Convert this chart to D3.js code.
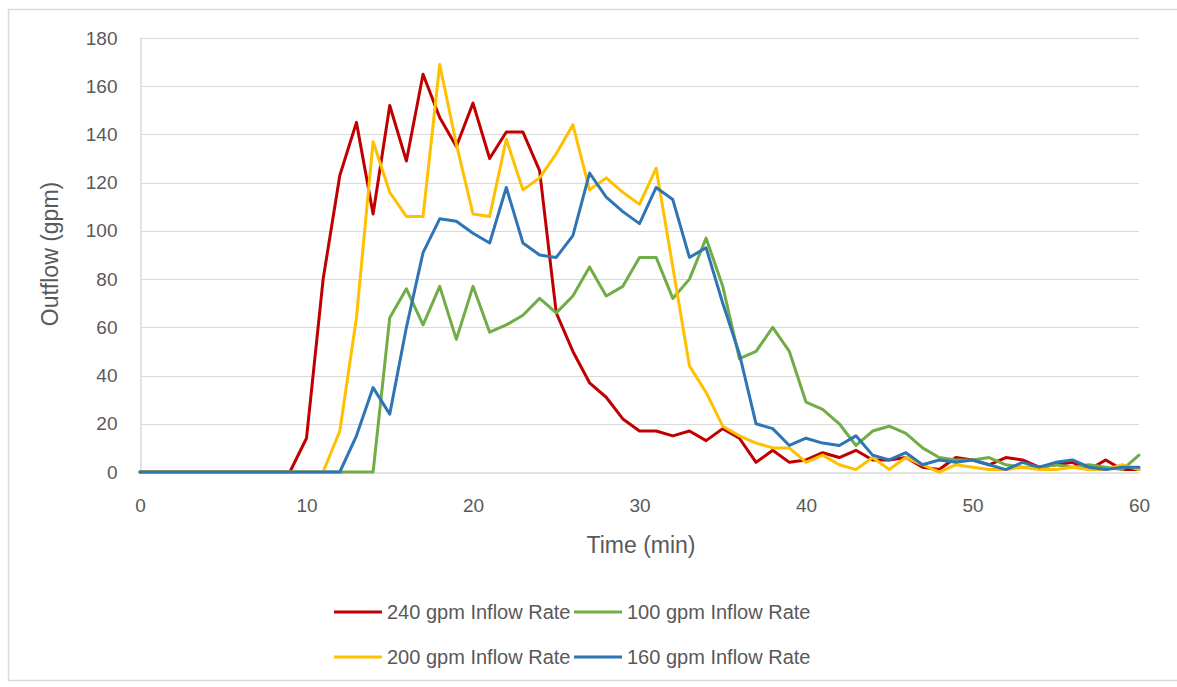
<!DOCTYPE html>
<html>
<head>
<meta charset="utf-8">
<script src="https://cdn.jsdelivr.net/npm/d3@7"></script>
<style>
  html, body { margin: 0; padding: 0; background: #fff; }
  svg { display: block; font-family: "Liberation Sans", Arial, sans-serif; }
</style>
</head>
<body>
<svg id="chart" width="1177" height="687"></svg>
<script>
// ---- data ----
const minutes = d3.range(0, 61);
const xTicks = [0, 10, 20, 30, 40, 50, 60];
const yTicks = [0, 20, 40, 60, 80, 100, 120, 140, 160, 180];
const seriesNames = ["240 gpm Inflow Rate", "100 gpm Inflow Rate", "200 gpm Inflow Rate", "160 gpm Inflow Rate"];
const seriesColors = ["#C00000", "#70AD47", "#FFC000", "#2E75B6"];

const flow240 = [0,0,0,0,0,0,0,0,0,0,14,80,123,145,107,152,129,165,147,135,153,130,141,141,125,66,50,37,31,22,17,17,15,17,13,18,14,4,9,4,5,8,6,9,5,5,6,2,1,6,5,3,6,5,2,3,4,1,5,1,1];
const flow100 = [0,0,0,0,0,0,0,0,0,0,0,0,0,0,0,64,76,61,77,55,77,58,61,65,72,66,73,85,73,77,89,89,72,80,97,77,47,50,60,50,29,26,20,11,17,19,16,10,6,5,5,6,3,2,2,3,2,3,2,1,7];
const flow200 = [0,0,0,0,0,0,0,0,0,0,0,0,17,64,137,116,106,106,169,136,107,106,138,117,122,132,144,117,122,116,111,126,85,44,33,19,15,12,10,10,4,7,3,1,6,1,6,3,0,3,2,1,1,2,1,1,2,1,1,3,1];
const flow160 = [0,0,0,0,0,0,0,0,0,0,0,0,0,15,35,24,60,91,105,104,99,95,118,95,90,89,98,124,114,108,103,118,113,89,93,70,49,20,18,11,14,12,11,15,7,5,8,3,5,4,5,3,1,4,2,4,5,2,1,2,2];

const seriesValues = [flow240, flow100, flow200, flow160];

// ---- layout ----
const svg = d3.select("#chart");
const plotLeft = 140, plotRight = 1139, plotTop = 38, plotBottom = 472;
const textColor = "#595959";
const gridColor = "#D9D9D9";

// chart border
svg.append("rect")
  .attr("x", 8.5).attr("y", 9.5).attr("width", 1200).attr("height", 671)
  .attr("fill", "none").attr("stroke", "#D9D9D9").attr("stroke-width", 1.5);

const x = d3.scaleLinear().domain([0, 60]).range([plotLeft, plotRight]);
const y = d3.scaleLinear().domain([0, 180]).range([plotBottom, plotTop]);

// gridlines
svg.append("g")
  .selectAll("line").data(yTicks.filter(t => t > 0)).join("line")
  .attr("x1", plotLeft).attr("x2", plotRight)
  .attr("y1", d => Math.round(y(d)) + 0.5).attr("y2", d => Math.round(y(d)) + 0.5)
  .attr("stroke", gridColor).attr("stroke-width", 1);

// y axis
const yAxis = svg.append("g")
  .attr("transform", `translate(${plotLeft + 0.5},0)`)
  .call(d3.axisLeft(y).tickValues(yTicks).tickSize(0).tickPadding(23));
yAxis.select(".domain").attr("stroke", gridColor).attr("stroke-width", 1.5);
yAxis.selectAll("text").attr("fill", textColor).style("font-size", "19px")
  .style("font-family", "'Liberation Sans', Arial, sans-serif");

// x axis
const xAxis = svg.append("g")
  .attr("transform", `translate(0,${plotBottom + 0.5})`)
  .call(d3.axisBottom(x).tickValues(xTicks).tickSize(0).tickPadding(26));
xAxis.select(".domain").attr("stroke", gridColor).attr("stroke-width", 1.5);
xAxis.selectAll("text").attr("fill", textColor).style("font-size", "19px")
  .style("font-family", "'Liberation Sans', Arial, sans-serif");

// axis titles
svg.append("text")
  .attr("x", 641).attr("y", 553)
  .attr("text-anchor", "middle").attr("fill", textColor)
  .style("font-size", "23px").text("Time (min)");

svg.append("text")
  .attr("transform", "translate(58,254) rotate(-90)")
  .attr("text-anchor", "middle").attr("fill", textColor)
  .style("font-size", "23px").text("Outflow (gpm)");

// lines
const line = d3.line()
  .x((d, i) => x(minutes[i]))
  .y(d => y(d));

svg.append("g").selectAll("path").data(seriesValues).join("path")
  .attr("d", d => line(d))
  .attr("fill", "none")
  .attr("stroke", (d, i) => seriesColors[i])
  .attr("stroke-width", 3)
  .attr("stroke-linejoin", "round")
  .attr("stroke-linecap", "round");

// legend
const legendPos = [
  { lx: 334, ly: 612 },
  { lx: 574, ly: 612 },
  { lx: 334, ly: 657 },
  { lx: 574, ly: 657 }
];
const legend = svg.append("g");
seriesNames.forEach((name, i) => {
  const p = legendPos[i];
  legend.append("line")
    .attr("x1", p.lx).attr("x2", p.lx + 48)
    .attr("y1", p.ly).attr("y2", p.ly)
    .attr("stroke", seriesColors[i]).attr("stroke-width", 3);
  legend.append("text")
    .attr("x", p.lx + 53).attr("y", p.ly + 7)
    .attr("fill", textColor).style("font-size", "20px")
    .text(name);
});
</script>
</body>
</html>
